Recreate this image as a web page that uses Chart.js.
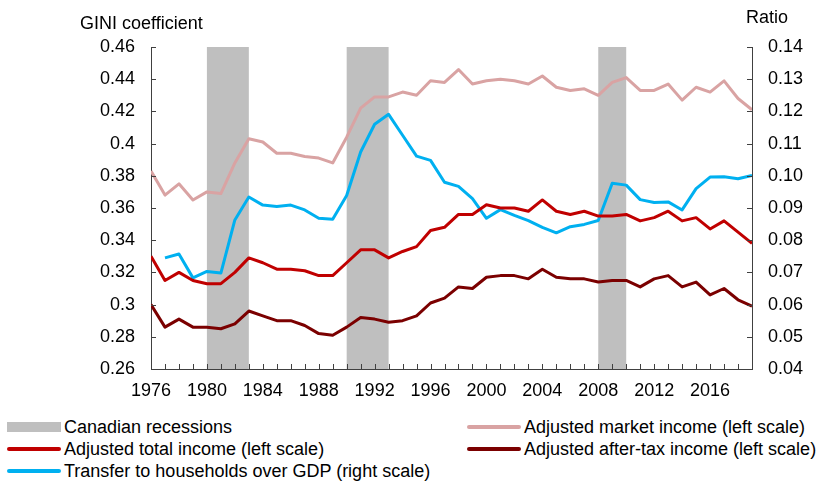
<!DOCTYPE html>
<html>
<head>
<meta charset="utf-8">
<script src="https://cdn.jsdelivr.net/npm/chart.js@4"></script>
<style>
  body { margin: 0; background: #fff; }
  #wrap { position: relative; width: 828px; height: 482px; font-family: "Liberation Sans", Arial, sans-serif; }
  #box { position: absolute; left: 0; top: 0; width: 828px; height: 410px; }
  .item { position: absolute; font-size: 18px; color: #000; line-height: 20px; white-space: nowrap; }
  .sw { position: absolute; }
</style>
</head>
<body>
<div id="wrap">
  <div id="box"><canvas id="giniChart"></canvas></div>
  <div id="legend"></div>
</div>
<script>
// years on the x axis
const years = [];
for (let y = 1976; y <= 2019; y++) years.push(y);

// Canadian recessions (start / end year)
const recessionStart = [1980, 1990, 2008];
const recessionEnd = [1983, 1993, 2010];

// Adjusted market income (left scale)
const marketIncome = [
  0.383, 0.368, 0.375, 0.365, 0.370, 0.369, 0.388, 0.403, 0.401, 0.394,
  0.394, 0.392, 0.391, 0.388, 0.404, 0.422, 0.429, 0.429, 0.432, 0.430,
  0.439, 0.438, 0.446, 0.437, 0.439, 0.440, 0.439, 0.437, 0.442, 0.435,
  0.433, 0.434, 0.430, 0.438, 0.441, 0.433, 0.433, 0.437, 0.427, 0.435,
  0.432, 0.439, 0.428, 0.421
];

// Adjusted total income (left scale)
const totalIncome = [
  0.330, 0.315, 0.320, 0.315, 0.313, 0.313, 0.320, 0.329, 0.326, 0.322,
  0.322, 0.321, 0.318, 0.318, 0.326, 0.334, 0.334, 0.329, 0.333, 0.336,
  0.346, 0.348, 0.356, 0.356, 0.362, 0.360, 0.360, 0.358, 0.365, 0.358,
  0.356, 0.358, 0.355, 0.355, 0.356, 0.352, 0.354, 0.358, 0.352, 0.354,
  0.347, 0.352, 0.345, 0.338
];

// Adjusted after-tax income (left scale)
const afterTaxIncome = [
  0.300, 0.286, 0.291, 0.286, 0.286, 0.285, 0.288, 0.296, 0.293, 0.290,
  0.290, 0.287, 0.282, 0.281, 0.286, 0.292, 0.291, 0.289, 0.290, 0.293,
  0.301, 0.304, 0.311, 0.310, 0.317, 0.318, 0.318, 0.316, 0.322, 0.317,
  0.316, 0.316, 0.314, 0.315, 0.315, 0.311, 0.316, 0.318, 0.311, 0.314,
  0.306, 0.310, 0.303, 0.299
];

// Transfer to households over GDP (right scale), no 1976 value
const transfers = [
  null, 0.0745, 0.0757, 0.0683, 0.0703, 0.0698, 0.0863, 0.0934, 0.0909, 0.0905,
  0.0909, 0.0894, 0.0868, 0.0865, 0.0939, 0.1074, 0.1160, 0.1191, 0.1126, 0.1061,
  0.1048, 0.0980, 0.0967, 0.0929, 0.0868, 0.0895, 0.0877, 0.0861, 0.0840, 0.0823,
  0.0842, 0.0849, 0.0861, 0.0977, 0.0971, 0.0926, 0.0917, 0.0919, 0.0894, 0.0960,
  0.0996, 0.0997, 0.0991, 0.1001
];

const FONT = "'Liberation Sans', Arial, sans-serif";
const AXIS = "#404040";

function points(arr) {
  return years.map((y, i) => ({ x: y, y: arr[i] }));
}

// grey bands behind the lines
const recessionBands = {
  id: "recessionBands",
  beforeDatasetsDraw(chart) {
    const { ctx, chartArea, scales } = chart;
    ctx.save();
    ctx.fillStyle = "#bfbfbf";
    for (let i = 0; i < recessionStart.length; i++) {
      const x1 = scales.x.getPixelForValue(recessionStart[i]);
      const x2 = scales.x.getPixelForValue(recessionEnd[i]);
      ctx.fillRect(x1, chartArea.top, x2 - x1, chartArea.bottom - chartArea.top);
    }
    ctx.restore();
  }
};

// inside tick marks + axis titles
const axisExtras = {
  id: "axisExtras",
  afterDraw(chart) {
    const { ctx, chartArea, scales } = chart;
    ctx.save();
    ctx.strokeStyle = AXIS;
    ctx.lineWidth = 1;
    ctx.beginPath();
    scales.x.ticks.forEach((t) => {
      const px = Math.round(scales.x.getPixelForValue(t.value)) + 0.5;
      ctx.moveTo(px, chartArea.bottom);
      ctx.lineTo(px, chartArea.bottom - 5);
    });
    scales.y.ticks.forEach((t) => {
      const py = Math.round(scales.y.getPixelForValue(t.value)) + 0.5;
      ctx.moveTo(chartArea.left, py);
      ctx.lineTo(chartArea.left + 5, py);
    });
    scales.y2.ticks.forEach((t) => {
      const py = Math.round(scales.y2.getPixelForValue(t.value)) + 0.5;
      ctx.moveTo(chartArea.right, py);
      ctx.lineTo(chartArea.right - 5, py);
    });
    ctx.stroke();

    ctx.fillStyle = "#000";
    ctx.font = "18px " + FONT;
    ctx.textBaseline = "alphabetic";
    ctx.textAlign = "left";
    ctx.fillText("GINI coefficient", 80, 29);
    ctx.fillText("Ratio", 746, 23);
    ctx.restore();
  }
};

new Chart(document.getElementById("giniChart"), {
  type: "line",
  data: {
    datasets: [
      {
        label: "Adjusted market income (left scale)",
        data: points(marketIncome),
        borderColor: "#d9a3a3",
        yAxisID: "y",
      },
      {
        label: "Adjusted total income (left scale)",
        data: points(totalIncome),
        borderColor: "#c00000",
        yAxisID: "y",
      },
      {
        label: "Adjusted after-tax income (left scale)",
        data: points(afterTaxIncome),
        borderColor: "#7b0000",
        yAxisID: "y",
      },
      {
        label: "Transfer to households over GDP (right scale)",
        data: points(transfers),
        borderColor: "#00b0f0",
        yAxisID: "y2",
      },
    ],
  },
  options: {
    responsive: true,
    maintainAspectRatio: false,
    animation: false,
    events: [],
    elements: {
      point: { radius: 0 },
      line: { borderWidth: 3, tension: 0, borderJoinStyle: "round" },
    },
    layout: { padding: { top: 47, left: 0, right: 0, bottom: 0 } },
    plugins: { legend: { display: false }, tooltip: { enabled: false } },
    scales: {
      x: {
        type: "linear",
        min: 1976,
        max: 2019,
        afterBuildTicks: (scale) => {
          scale.ticks = years.map((y) => ({ value: y }));
        },
        afterFit: (scale) => { scale.height = 41; },
        grid: { display: false, drawTicks: false },
        border: { display: true, color: AXIS, width: 1 },
        ticks: {
          autoSkip: false,
          maxRotation: 0,
          padding: 11,
          color: "#000",
          font: { family: FONT, size: 18 },
          callback: (v) => ((v - 1976) % 4 === 0 ? String(v) : ""),
        },
      },
      y: {
        position: "left",
        min: 0.26,
        max: 0.46,
        afterFit: (scale) => { scale.width = 151; },
        grid: { display: false, drawTicks: false },
        border: { display: true, color: AXIS, width: 1 },
        ticks: {
          stepSize: 0.02,
          padding: 16,
          color: "#000",
          font: { family: FONT, size: 18 },
          callback: (v) => String(Number(v.toFixed(2))),
        },
      },
      y2: {
        position: "right",
        min: 0.04,
        max: 0.14,
        afterFit: (scale) => { scale.width = 76; },
        grid: { display: false, drawTicks: false },
        border: { display: true, color: AXIS, width: 1 },
        ticks: {
          stepSize: 0.01,
          padding: 16,
          color: "#000",
          font: { family: FONT, size: 18 },
          callback: (v) => v.toFixed(2),
        },
      },
    },
  },
  plugins: [recessionBands, axisExtras],
});

// legend below the chart
const legendItems = [
  { text: "Canadian recessions", color: "#bfbfbf", bar: true, x: 7, y: 427 },
  { text: "Adjusted market income (left scale)", color: "#d9a3a3", x: 467, y: 427 },
  { text: "Adjusted total income (left scale)", color: "#c00000", x: 7, y: 449 },
  { text: "Adjusted after-tax income (left scale)", color: "#7b0000", x: 467, y: 449 },
  { text: "Transfer to households over GDP (right scale)", color: "#00b0f0", x: 7, y: 471 },
];
const legend = document.getElementById("legend");
legendItems.forEach((it) => {
  const sw = document.createElement("div");
  sw.className = "sw";
  const h = it.bar ? 10 : 4;
  sw.style.left = it.x + "px";
  sw.style.top = (it.y - h / 2) + "px";
  sw.style.width = "54px";
  sw.style.height = h + "px";
  sw.style.background = it.color;
  if (!it.bar) sw.style.borderRadius = "2px";
  legend.appendChild(sw);
  const t = document.createElement("div");
  t.className = "item";
  t.style.left = (it.x + 57) + "px";
  t.style.top = (it.y - 10) + "px";
  t.textContent = it.text;
  legend.appendChild(t);
});
</script>
</body>
</html>
